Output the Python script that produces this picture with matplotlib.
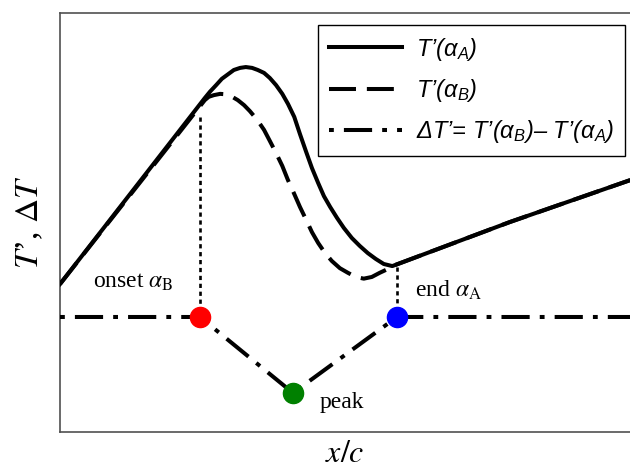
import matplotlib
matplotlib.use("Agg")
import matplotlib.pyplot as plt

plt.rcParams['mathtext.fontset'] = 'custom'
plt.rcParams['mathtext.rm'] = 'Liberation Sans:italic'
plt.rcParams['mathtext.it'] = 'Liberation Sans:italic'

# ---- data (x/c, arbitrary units) ----
x_A = [0.000, 0.254, 0.263, 0.274, 0.284, 0.295, 0.305, 0.316, 0.326, 0.337, 0.347,
       0.358, 0.368, 0.379, 0.390, 0.400, 0.411, 0.421, 0.432, 0.442, 0.453, 0.463,
       0.474, 0.486, 0.498, 0.512, 0.526, 0.540, 0.554, 0.568, 0.583, 0.789, 1.000]
T_A = [0.353, 0.797, 0.812, 0.828, 0.843, 0.854, 0.864, 0.869, 0.871, 0.869, 0.864,
       0.857, 0.845, 0.828, 0.807, 0.783, 0.752, 0.711, 0.668, 0.630, 0.594, 0.563,
       0.537, 0.511, 0.487, 0.463, 0.444, 0.427, 0.413, 0.401, 0.396, 0.501, 0.601]

x_B = [0.000, 0.254, 0.261, 0.270, 0.281, 0.291, 0.302, 0.312, 0.323, 0.333, 0.346,
       0.358, 0.368, 0.379, 0.390, 0.400, 0.411, 0.421, 0.432, 0.442, 0.453, 0.465,
       0.477, 0.491, 0.505, 0.519, 0.533, 0.547, 0.561, 0.572, 0.583, 0.789, 1.000]
T_B = [0.353, 0.792, 0.800, 0.804, 0.807, 0.806, 0.800, 0.792, 0.780, 0.766, 0.745,
       0.721, 0.695, 0.666, 0.635, 0.601, 0.568, 0.537, 0.506, 0.477, 0.451, 0.427,
       0.408, 0.391, 0.380, 0.370, 0.366, 0.370, 0.380, 0.387, 0.396, 0.501, 0.601]

x_dT = [0.000, 0.2456, 0.4088, 0.5912, 1.000]
dT = [0.2745, 0.2745, 0.0931, 0.2745, 0.2745]

x_onset, x_peak, x_end = 0.2456, 0.4088, 0.5912
y_onset_top, y_end_top = 0.752, 0.394

labels = ["T\u2019(\u03b1$_{A}$)", "T\u2019(\u03b1$_{B}$)",
          "\u0394T\u2019= T\u2019(\u03b1$_{B}$)\u2013 T\u2019(\u03b1$_{A}$)"]

fig = plt.figure(figsize=(6.3, 4.69), dpi=100)
ax = fig.add_axes([60/630, 37/469, 570/630, 419/469])

lw = 2.9
ax.plot(x_A, T_A, color='black', lw=lw, linestyle='-', label=labels[0], zorder=3)
ax.plot(x_B, T_B, color='black', lw=lw, linestyle=(0, (6.7, 2.7)), label=labels[1], zorder=3)
ax.plot(x_dT, dT, color='black', lw=lw, linestyle=(0, (1.2, 2.5, 7.0, 2.5)), label=labels[2], zorder=3)

ax.plot([x_onset, x_onset], [y_onset_top, dT[1]], color='black', lw=1.9, linestyle=(0, (1.6, 1.4)), zorder=2)
ax.plot([x_end, x_end], [y_end_top, dT[3]], color='black', lw=1.9, linestyle=(0, (1.6, 1.4)), zorder=2)

ax.plot([x_onset], [dT[1]], 'o', color='#ff0000', ms=14.5, zorder=5)
ax.plot([x_peak], [dT[2]], 'o', color='#008000', ms=14.5, zorder=5)
ax.plot([x_end], [dT[3]], 'o', color='#0000ff', ms=14.5, zorder=5)

tkw = dict(family='Liberation Serif', fontsize=17, va='baseline', math_fontfamily='stix')
ax.text(0.058, 0.344, r"onset $\alpha_{\mathrm{B}}$", **tkw)
ax.text(0.623, 0.322, r"end $\alpha_{\mathrm{A}}$", **tkw)
ax.text(0.456, 0.057, "peak", **tkw)

ax.set_xlim(0, 1)
ax.set_ylim(0, 1)
ax.set_xticks([])
ax.set_yticks([])
ax.spines['right'].set_visible(False)
for s in ['left', 'top', 'bottom']:
    ax.spines[s].set_color('#505050')
    ax.spines[s].set_linewidth(1.2)

ax.set_xlabel("$x/c$", fontsize=23, math_fontfamily='stix')
ax.xaxis.set_label_coords(0.5, -0.072)
ax.xaxis.label.set_va('baseline')
ax.set_ylabel("$T$\u2019, $\\Delta T$", fontsize=24, family='Liberation Serif', math_fontfamily='stix')
ax.yaxis.set_label_coords(-0.0526, 0.5)
ax.yaxis.label.set_va('center')

leg = ax.legend(loc='upper right', bbox_to_anchor=(0.9912, 0.9714), borderaxespad=0,
                prop={'family': 'Liberation Sans', 'style': 'italic', 'size': 17},
                frameon=True, fancybox=False, edgecolor='black', framealpha=1,
                handlelength=3.1, handletextpad=0.6, labelspacing=0.6, borderpad=0.45)
leg.get_frame().set_linewidth(1.0)

fig.savefig("out.png", dpi=100)
